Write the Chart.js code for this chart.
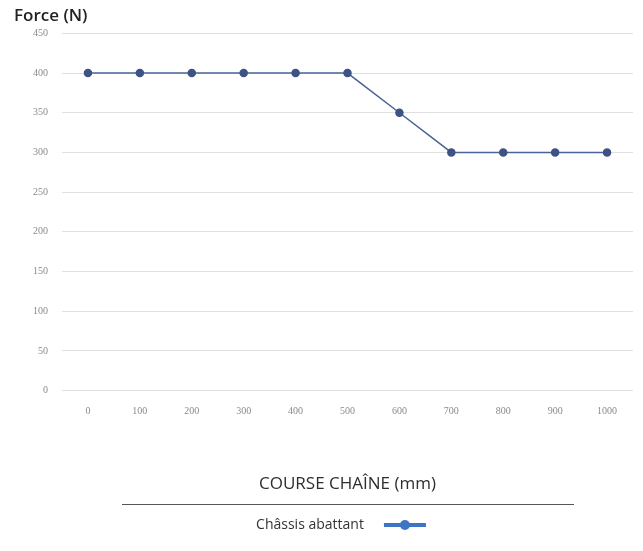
<!DOCTYPE html>
<html>
<head>
<meta charset="utf-8">
<script src="https://cdn.jsdelivr.net/npm/chart.js@4/dist/chart.umd.min.js"></script>
<style>
  html, body { margin: 0; padding: 0; background: #ffffff; }
  #wrap { width: 643px; height: 551px; position: relative; }
</style>
</head>
<body>
<div id="wrap"><canvas id="c" width="643" height="551"></canvas></div>
<script>
// Chain travel (mm) and force (N)
const categories = ['0', '100', '200', '300', '400', '500', '600', '700', '800', '900', '1000'];
const forceValues = [400, 400, 400, 400, 400, 400, 350, 300, 300, 300, 300];
const yTicks = [0, 50, 100, 150, 200, 250, 300, 350, 400, 450];
const seriesLabel = 'Châssis abattant';
const yTitle = 'Force (N)';
const xTitle = 'COURSE CHAÎNE (mm)';

const lineColor = '#4a6396';
const pointColor = '#3e5283';
const legendBlue = '#3d74c4';

// legend symbol: a thick line with a dot in the middle (transparent margin on the left)
const sym = document.createElement('canvas');
sym.width = 56; sym.height = 12;
(function () {
  const g = sym.getContext('2d');
  g.fillStyle = legendBlue;
  g.fillRect(13, 4, 42, 4);
  g.beginPath();
  g.arc(34, 6, 5, 0, Math.PI * 2);
  g.fill();
})();

// legend centred under the plot area, plus a rule above it
const legendRule = {
  id: 'legendRule',
  afterLayout(chart) {
    const lg = chart.legend;
    const a = chart.chartArea;
    lg.left = a.left - 6;
    lg.right = a.right - 6;
    lg.width = a.right - a.left;
  },
  afterDraw(chart) {
    const g = chart.ctx;
    const y = Math.round(chart.legend.top - 4);
    g.save();
    g.strokeStyle = '#555555';
    g.lineWidth = 1;
    g.beginPath();
    g.moveTo(122, y + 0.5);
    g.lineTo(574, y + 0.5);
    g.stroke();
    g.restore();
  }
};

new Chart(document.getElementById('c'), {
  type: 'line',
  data: {
    labels: categories,
    datasets: [{
      label: seriesLabel,
      data: forceValues,
      borderColor: lineColor,
      backgroundColor: pointColor,
      borderWidth: 1.5,
      pointRadius: 3.5,
      pointBackgroundColor: pointColor,
      pointBorderColor: pointColor,
      pointHoverRadius: 4,
      tension: 0
    }]
  },
  plugins: [legendRule],
  options: {
    responsive: false,
    animation: false,
    devicePixelRatio: 1,
    layout: { padding: { left: 14, right: 10, top: 4, bottom: 9 } },
    scales: {
      x: {
        offset: true,
        grid: { display: false, drawTicks: false },
        border: { display: false },
        ticks: {
          color: '#8a8a8a',
          font: { family: 'Liberation Serif', size: 10 },
          padding: 15,
          maxRotation: 0
        },
        title: {
          display: true,
          text: xTitle,
          color: '#2e2e2e',
          font: { family: 'Open Sans', size: 17 },
          padding: { top: 41, bottom: 14 }
        }
      },
      y: {
        min: 0,
        max: 450,
        afterFit(s) { s.width = 48; },
        afterBuildTicks(s) { s.ticks = yTicks.map(v => ({ value: v })); },
        grid: { color: '#e0e0e0', lineWidth: 1, drawTicks: false },
        border: { display: false },
        ticks: {
          color: '#8a8a8a',
          font: { family: 'Liberation Serif', size: 10 },
          padding: 14
        }
      }
    },
    plugins: {
      title: {
        display: true,
        text: yTitle,
        align: 'start',
        color: '#222222',
        font: { family: 'Open Sans', size: 17, weight: '600' },
        padding: { top: 2, bottom: 7 }
      },
      legend: {
        position: 'bottom',
        rtl: true,
        labels: {
          color: '#333333',
          font: { family: 'Open Sans', size: 14 },
          usePointStyle: true,
          pointStyle: sym,
          pointStyleWidth: 56,
          padding: 10
        }
      },
      tooltip: { enabled: false }
    }
  }
});
</script>
</body>
</html>
